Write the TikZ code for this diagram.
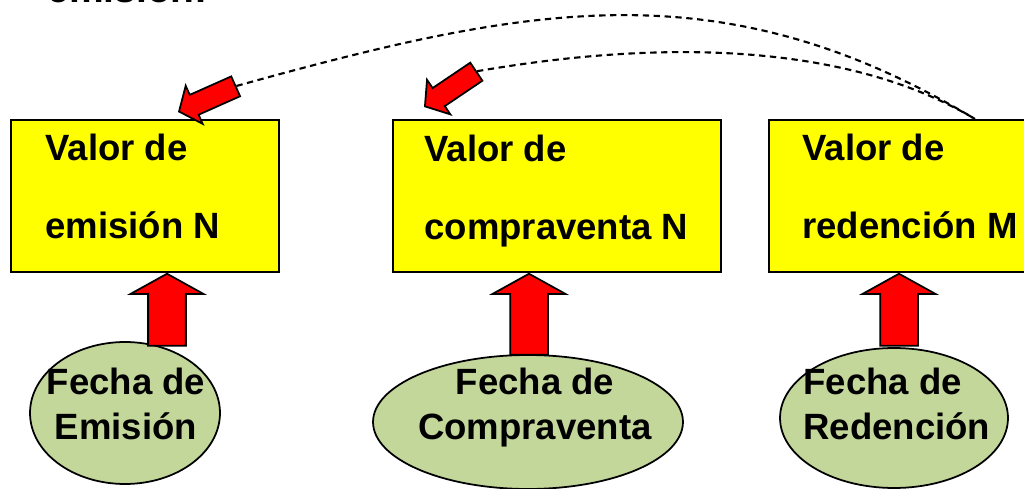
\documentclass[tikz,border=0pt]{standalone}
\usepackage{fontspec}
\setmainfont{Liberation Sans}
\usepackage{tikz}
\usetikzlibrary{calc}
\usetikzlibrary{positioning}
\usetikzlibrary{shapes.geometric}
\usetikzlibrary{shapes.arrows}
\definecolor{lemon}{RGB}{255, 255, 0}
\definecolor{sage}{RGB}{196, 215, 155}
\definecolor{signal}{RGB}{255, 0, 0}
\tikzset{
    valbox/.style    = {draw=black, fill=lemon, line width=1pt, minimum height=3.04cm, inner sep=0pt},
    datebubble/.style= {ellipse, draw=black, fill=sage, line width=1pt, inner sep=0pt},
    bigtext/.style   = {font=\fontsize{20.8}{44.4}\selectfont\bfseries, inner sep=0pt, align=left},
    datetext/.style  = {font=\fontsize{20.8}{25.6}\selectfont\bfseries, inner sep=0pt},
    uparrow/.style   = {single arrow, draw=black, fill=signal, line width=1pt, inner xsep=0pt, inner ysep=0.36cm,
                        rotate=90, anchor=tip,
                        single arrow head extend=0.35cm, single arrow tip angle=122, single arrow head indent=0pt},
    tiltarrow/.style = {single arrow, draw=black, fill=signal, line width=1pt, inner xsep=0pt, inner ysep=0.2cm,
                        anchor=tip, minimum height=1.24cm,
                        single arrow head extend=0.2cm, single arrow tip angle=103, single arrow head indent=0pt},
    datelink/.style  = {dash pattern=on 3.6pt off 2.6pt, line width=1.2pt}
}

\begin{document}
\begin{tikzpicture}[x=0.02cm, y=-0.02cm]
            % Frame to fix the page:
            \useasboundingbox (0,0) rectangle (1024,489);
            \node[bigtext, font=\fontsize{22.2}{26}\selectfont\bfseries, anchor=base west] (head) at (47,3) {emisión:};
            % Values:
            \node[valbox, minimum width=5.36cm, anchor=north west] (b1) at ( 10,119) {};
            \node[valbox, minimum width=6.56cm, anchor=north west] (b2) at (392,119) {};
            \node[valbox, minimum width=5.40cm, anchor=north west] (b3) at (768,119) {};
            \node[bigtext, anchor=west] (v1) at ([shift={(35,-9)}]b1.west) {Valor de\\emisión N};
            \node[bigtext, anchor=west] (v2) at ([shift={(32,-5)}]b2.west) {Valor de\\compraventa N};
            \node[bigtext, anchor=west] (v3) at ([shift={(34,-9)}]b3.west) {Valor de\\redención M};
            % Dates:
            \node[datebubble, minimum width=3.80cm, minimum height=2.84cm] (e1) at (125,413) {};
            \node[datebubble, minimum width=6.20cm, minimum height=2.68cm] (e2) at (528,422) {};
            \node[datebubble, minimum width=4.56cm, minimum height=2.80cm] (e3) at (894,418) {};
            \node[datetext, align=center] (f1) at ([shift={(1,-9)}]e1.center) {Fecha de\\Emisión};
            \node[datetext, align=center] (f2) at ([shift={(7,-14)}]e2.center) {Fecha de\\Compraventa};
            \node[datetext, align=left, anchor=west] (f3) at ([shift={(-91,-14)}]e3.center) {Fecha de\\Redención};
            % Arrows:
            \node[uparrow, minimum height=1.44cm] (a1) at ([shift={(157,0)}]b1.south west) {};
            \node[uparrow, minimum height=1.62cm] (a2) at ([shift={(137,0)}]b2.south west) {};
            \node[uparrow, minimum height=1.44cm] (a3) at ([shift={(131,0)}]b3.south west) {};
            \node[tiltarrow, rotate=204] (d1) at ([shift={(168,-7)}]b1.north west) {};
            \node[tiltarrow, rotate=214] (d2) at ([shift={(32,-12)}]b2.north west) {};
            \coordinate (c3) at ([shift={(207,0)}]b3.north west);
            \draw[datelink] (d1.tail) .. controls (529,5) and (721,-33) .. (c3);
            \draw[datelink] (d2.tail) .. controls (572,55) and (811,21) .. (c3);
\end{tikzpicture}
\end{document}
